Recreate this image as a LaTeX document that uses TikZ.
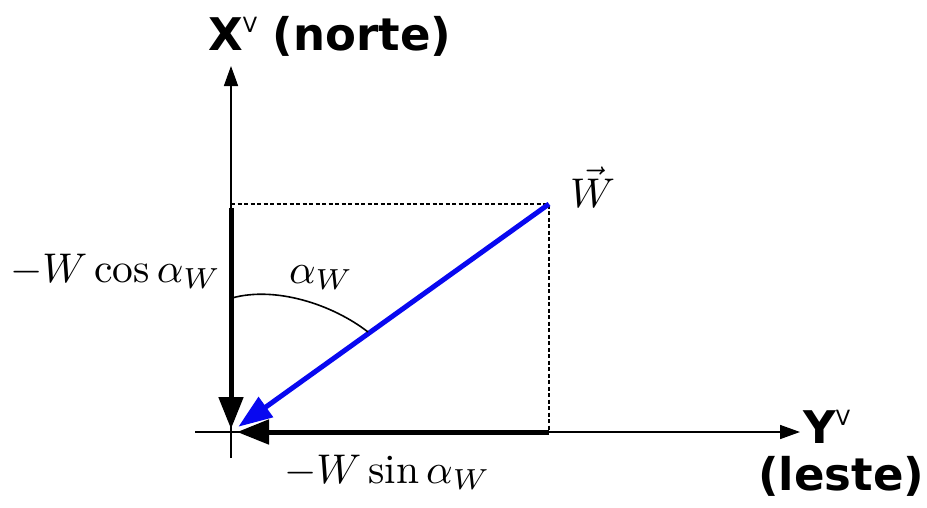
\documentclass[tikz,border=0pt]{standalone}
\usepackage{graphicx}
\usepackage{fontspec}
\usetikzlibrary{arrows.meta,positioning}
\newfontfamily\axisfont{DejaVu Sans}
\definecolor{VecBlue}{HTML}{0808F0}
\newcommand\axsup{\raisebox{18pt}{\fontsize{21}{22}\selectfont\mdseries V}}
\newcommand\mbig[1]{\scalebox{4.15}{$#1$}}
\tikzset{axis/.style={line width=1.6pt,-{Triangle[length=20pt,width=14pt]}},
 comp/.style={line width=5pt,-{Triangle[length=32pt,width=24pt]}},
 wvec/.style={comp,draw=VecBlue,-{Triangle[length=34pt,width=24pt,fill=VecBlue]}},
 guide/.style={line width=1.3pt,dash pattern=on 4pt off 2.5pt},
 axlab/.style={inner sep=0pt,font=\axisfont\bfseries\fontsize{45}{50}\selectfont},
 mlab/.style={inner sep=0pt}}
\begin{document}
\begin{tikzpicture}[x=1pt,y=-1pt]
\useasboundingbox (0,0) rectangle (927,507);
\coordinate (O) at (231,432);\coordinate (P) at (549,204);
\coordinate (Xtop) at (231,66);\coordinate (Xbot) at (231,458);
\coordinate (Yleft) at (195,432);\coordinate (Yright) at (800,432);
\coordinate (Pv) at (231,204);\coordinate (Ph) at (549,432);
\coordinate (Cx) at (231,208);
\coordinate (A1) at (232,298);\coordinate (A2) at (368,332);
\draw[axis] (Xbot)--(Xtop);
\draw[axis] (Yleft)--(Yright);
\draw[guide] (Pv)--(P)--(Ph);
\draw[comp,shorten >=3pt] (Cx)--(O);
\draw[comp,shorten >=6pt] (Ph)--(O);
\draw[wvec,shorten >=9pt] (P)--(O);
\draw[line width=1.6pt] (A1) .. controls (275,286) and (332,304) .. (A2);
\node[axlab,anchor=base west] (xlab) at (208,50) {X\axsup{} (norte)};
\node[axlab,anchor=base west] (ylab) at (803,443) {Y\axsup};
\node[axlab,anchor=base west] (yname) at (758,490) {(leste)};
\node[mlab,anchor=base west] (cosl) at (10,282) {\mbig{-W\cos\alpha_W}};
\node[mlab,anchor=base west] (angl) at (289,283) {\mbig{\alpha_W}};
\node[mlab,anchor=base west] (sinl) at (284,483) {\mbig{-W\sin\alpha_W}};
\node[mlab,anchor=base west] (wlab) at (570,207) {\mbig{\vec{W}}};
\end{tikzpicture}
\end{document}
